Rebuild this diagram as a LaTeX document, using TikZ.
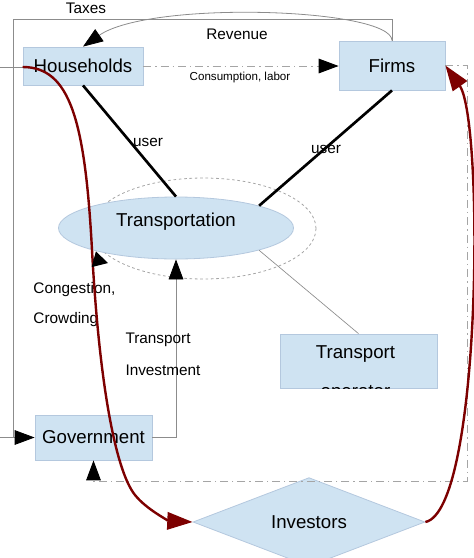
\documentclass[tikz,border=0pt]{standalone}
\usepackage{fontspec}
\setmainfont{Liberation Sans}
\usepackage{tikz}
\usetikzlibrary{shapes.geometric,arrows.meta}
\definecolor{paleblue}{RGB}{207,227,242}
\definecolor{edgeblue}{RGB}{180,200,222}
\definecolor{flowred}{RGB}{125,0,0}
\definecolor{linegray}{RGB}{140,140,140}
\definecolor{dashgray}{RGB}{165,165,165}
\tikzset{every picture/.style={line width=0.75pt}}
\tikzset{
  bigtext/.style={font=\fontsize{14}{17}\selectfont, inner sep=0pt},
  box/.style={bigtext, draw=edgeblue, fill=paleblue, line width=0.6pt},
  lbl/.style={font=\fontsize{11.5}{14}\selectfont, inner sep=0pt},
  smalllbl/.style={font=\fontsize{8.7}{10}\selectfont, inner sep=0pt},
  blackhead/.style={-{Triangle[length=15pt,width=11pt,color=black]}},
  widehead/.style={-{Triangle[length=11pt,width=12pt,color=black]}},
  redhead/.style={-{Triangle[length=19pt,width=13pt]}},
  dashdot/.style={dashgray, line width=0.7pt, dash pattern=on 6pt off 3pt on 1pt off 3pt},
  flow/.style={flowred, line width=1.8pt, redhead},
}

\begin{document}
\begin{tikzpicture}[x=0.75pt,y=0.75pt,yscale=-1,xscale=1]
\useasboundingbox (0,0) rectangle (474,558);

%Shape: Ellipse (dotted ring)
\draw [dashgray, line width=0.6pt, dash pattern=on 2pt off 2pt] (203.5,228.5) ellipse [x radius=112.5, y radius=50.5];

%Shape: Rectangle
\node [box, minimum width=90pt, minimum height=28.5pt] (households) at (83,66) {Households};
%Shape: Rectangle
\node [box, minimum width=79.5pt, minimum height=36.75pt] (firms) at (392,65.5) {Firms};
%Shape: Ellipse
\node [box, ellipse, minimum width=176.25pt, minimum height=46.5pt] (transportation) at (176,228) {};
\node [bigtext, anchor=base] (transptext) at (176,226) {Transportation};
%Shape: Rectangle
\node [box, minimum width=117.75pt, minimum height=40.5pt] (operator) at (358.5,361) {};
\node [bigtext, anchor=base] (operatortop) at (355.5,358) {Transport};
\begin{scope}
\clip (operator.north west) rectangle (operator.south east);
\node [bigtext, anchor=base] (operatorbottom) at (355.5,397) {operator};
\end{scope}
%Shape: Rectangle
\node [box, minimum width=87.75pt, minimum height=33.75pt] (government) at (93.5,437.5) {Government};
%Shape: Diamond
\node [box, diamond, minimum width=174pt, minimum height=54pt] (investors) at (309,522) {Investors};

\coordinate (taxcorner) at (13,19);
\coordinate (loopcorner) at (467,481);
\coordinate (hhstub) at (0,67);
\coordinate (govstub) at (0,437.5);
\coordinate (congtail) at (93,259);
\coordinate (congtip) at (108,263);

%Straight Lines
\draw [linegray, line width=0.6pt, blackhead] (firms.north) |- (taxcorner) |- (government.west) ;
\draw [linegray, line width=0.6pt] (govstub) -- (taxcorner |- govstub) ;
\draw [linegray, line width=0.6pt] (hhstub) -- (households.west |- hhstub) ;
%Curve Lines
\draw [linegray, line width=0.6pt, blackhead] (firms.north) .. controls (392,8) and (150,0) .. (households.north) ;
%Straight Lines
\draw [dashdot, blackhead] (households.east) -- (households.east -| firms.west) ;
\draw [dashdot, blackhead] (firms.east) -| (loopcorner) -| (government.south) ;
\draw [linegray, line width=0.6pt, blackhead] (government.east) -| (transportation.south) ;
\draw [line width=2pt] (households.south) -- (transportation.north) ;
\draw [line width=2pt] (firms.south) -- (transportation.15) ;
\draw [linegray, line width=0.5pt] (transportation.-15) -- (operator.north) ;

% Text Node
\node [lbl] (taxes) at (86,8) {Taxes};
% Text Node
\node [lbl] (revenue) at (237,34) {Revenue};
% Text Node
\node [smalllbl] (consumption) at (240,77) {Consumption, labor};
% Text Node
\node [lbl] (userhh) at (148,142) {user};
% Text Node
\node [lbl] (userfirms) at (326,149) {user};
% Text Node
\node [lbl, anchor=west] (congestion) at (33,290) {Congestion,};
% Text Node
\node [lbl, anchor=west] (crowding) at (33,320) {Crowding};
% Text Node
\node [lbl, anchor=west] (invtransport) at (125,340) {Transport};
% Text Node
\node [lbl, anchor=west] (investment) at (125,370) {Investment};

%Curve Lines
\draw [flow] (households.west |- hhstub) .. controls (70,67) and (85,120) .. (92,250) .. controls (99,380) and (115,470) .. (135,495) .. controls (147,510) and (170,521) .. (investors.west) ;
\draw [flow] (investors.east) .. controls (482,510) and (484,120) .. (firms.east) ;
%Straight Lines
\draw [widehead] (congtail) -- (congtip) ;

\end{tikzpicture}
\end{document}
